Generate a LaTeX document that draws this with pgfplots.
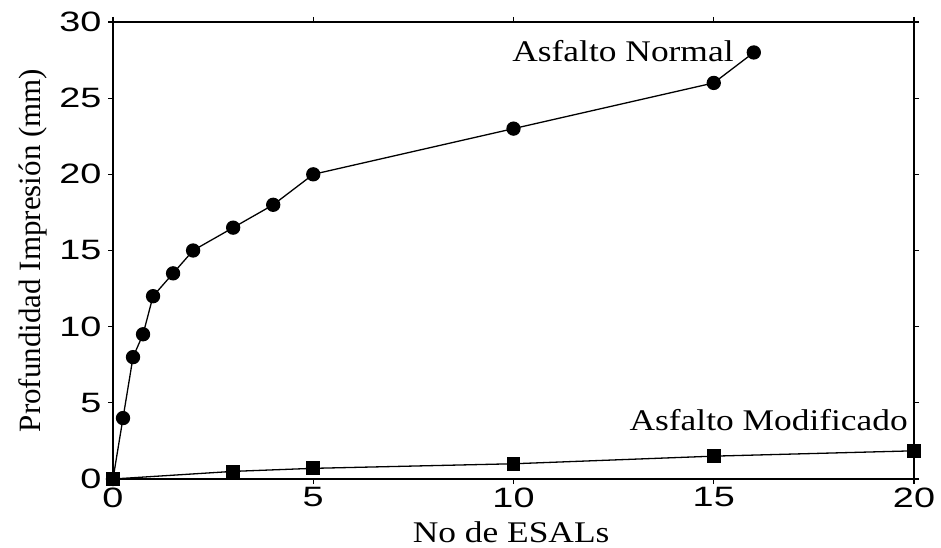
\documentclass[border=0pt]{standalone}
\usepackage{fontspec}
\setmainfont[FakeStretch=1.18]{Liberation Serif}
\newfontfamily\plainserif{Liberation Serif}
\newfontfamily\ticksans[FakeStretch=1.35]{Liberation Sans}
\usepackage{pgfplots}
\pgfplotsset{compat=1.18}

\pgfplotstableread{
x     y
0     0
0.25  4
0.5   8
0.75  9.5
1     12
1.5   13.5
2     15
3     16.5
4     18
5     20
10    23
15    26
16    28
}\normal

\pgfplotstableread{
x   y
0   0
3   0.5
5   0.7
10  1.0
15  1.5
20  1.85
}\modificado

\begin{document}
\begin{tikzpicture}
\begin{axis}[
  scale only axis,
  width=801pt, height=457pt,
  xmin=0, xmax=20, ymin=0, ymax=30,
  xtick={0,5,10,15,20},
  ytick={0,5,10,15,20,25,30},
  tick align=outside,
  major tick length=5pt,
  minor tick num=0,
  axis line style={line width=1.2pt},
  every tick/.style={black, line width=1.2pt},
  /pgf/number format/assume math mode=true,
  ticklabel style={font=\ticksans\fontsize{28}{28}\selectfont},
  yticklabel style={xshift=-3pt},
  clip=false,
]
\addplot[black, line width=1.3pt, mark=*, mark size=6.5pt,
  mark options={solid, fill=black}] table {\normal};
\addplot[black, line width=1.3pt, mark=square*, mark size=6.2pt,
  mark options={solid, fill=black}] table {\modificado};

\node[anchor=base east, font=\fontsize{30}{30}\selectfont, inner sep=0pt]
  at (axis cs:15.5,27.4) {Asfalto Normal};
\node[anchor=base east, font=\fontsize{30}{30}\selectfont, inner sep=0pt]
  at (axis cs:19.85,3.2) {Asfalto Modificado};

\node[anchor=base, font=\fontsize{30}{30}\selectfont, inner sep=0pt]
  at (axis description cs:0.497,-0.14) {No de ESALs};
\node[rotate=90, anchor=base, font=\plainserif\fontsize{31}{31}\selectfont, inner sep=0pt]
  at (axis description cs:-0.091,0.5) {Profundidad Impresión (mm)};
\end{axis}
\pgfresetboundingbox
\path ([shift={(-113pt,-69pt)}]current axis.south west) rectangle
      ([shift={(27pt,22pt)}]current axis.north east);
\end{tikzpicture}
\end{document}
